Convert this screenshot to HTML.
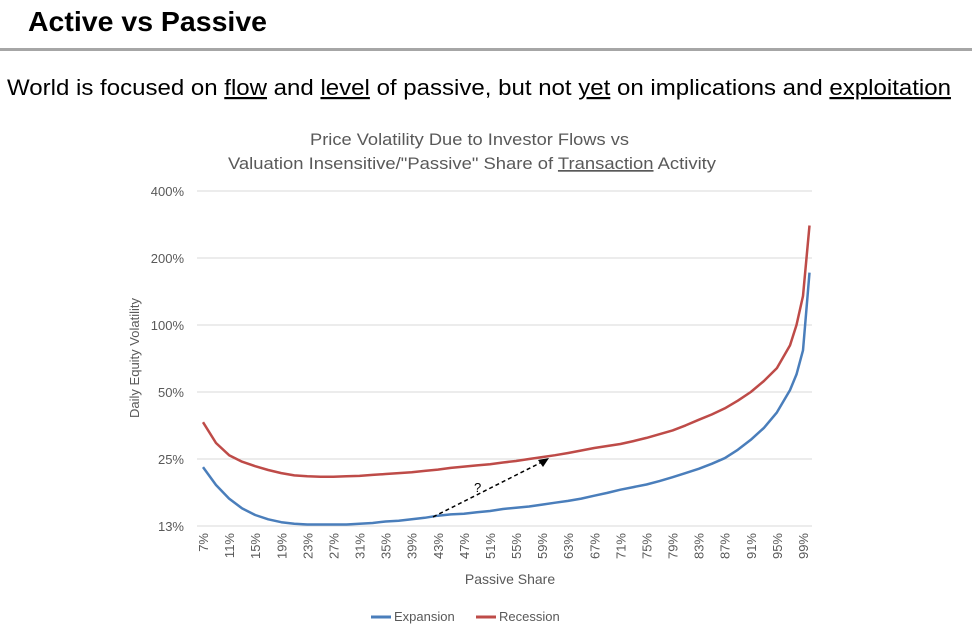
<!DOCTYPE html>
<html><head><meta charset="utf-8"><style>
body{margin:0;background:#fff;width:972px;height:635px;overflow:hidden;font-family:"Liberation Sans",sans-serif}
svg text{font-family:"Liberation Sans",sans-serif}
</style></head><body>
<svg id="c" width="972" height="635">
<text x="28" y="31" font-size="28" font-weight="bold" fill="#000" textLength="239" lengthAdjust="spacingAndGlyphs">Active vs Passive</text>
<rect x="0" y="48" width="972" height="3" fill="#a6a6a6"/>
<text x="7" y="95" font-size="22" fill="#000" textLength="944" lengthAdjust="spacingAndGlyphs">World is focused on <tspan text-decoration="underline">flow</tspan> and <tspan text-decoration="underline">level</tspan> of passive, but not <tspan text-decoration="underline">yet</tspan> on implications and <tspan text-decoration="underline">exploitation</tspan></text>
<text x="310" y="145" font-size="17" fill="#595959" textLength="319" lengthAdjust="spacingAndGlyphs">Price Volatility Due to Investor Flows vs</text>
<text x="228" y="169" font-size="17" fill="#595959" textLength="488" lengthAdjust="spacingAndGlyphs">Valuation Insensitive/"Passive" Share of <tspan text-decoration="underline">Transaction</tspan> Activity</text>
<text transform="translate(139,358) rotate(-90)" font-size="13" fill="#595959" text-anchor="middle">Daily Equity Volatility</text>
<text x="510" y="584" font-size="14" fill="#595959" text-anchor="middle">Passive Share</text>
<g id="grid"></g><g id="ylab"></g><g id="xlab"></g><g id="series"></g>
<line x1="433" y1="517" x2="542" y2="462" stroke="#000" stroke-width="1.5" stroke-dasharray="4,3"/>
<polygon points="549,458 538,460 543,467" fill="#000"/>
<text x="474" y="492" font-size="13" fill="#000">?</text>
<g>
<line x1="371" y1="617" x2="391" y2="617" stroke="#4a7ebb" stroke-width="3"/>
<text x="394" y="621" font-size="13" fill="#595959">Expansion</text>
<line x1="476" y1="617" x2="496" y2="617" stroke="#be4b48" stroke-width="3"/>
<text x="499" y="621" font-size="13" fill="#595959">Recession</text>
</g>
</svg>
<script>
const shares=[7,9,11,13,15,17,19,21,23,25,27,29,31,33,35,37,39,41,43,45,47,49,51,53,55,57,59,61,63,65,67,69,71,73,75,77,79,81,83,85,87,89,91,93,95,97,98,99,100];
const expansion=[23.0,19.1,16.6,15.0,14.0,13.4,13.0,12.8,12.7,12.7,12.7,12.7,12.8,12.9,13.1,13.2,13.4,13.6,13.9,14.1,14.2,14.4,14.6,14.9,15.1,15.3,15.6,15.9,16.2,16.6,17.1,17.6,18.2,18.7,19.2,19.9,20.7,21.6,22.6,23.8,25.2,27.5,30.5,34.5,40.5,51,60,77,172];
const recession=[36.6,29.5,26.0,24.3,23.2,22.3,21.6,21.1,20.9,20.8,20.8,20.9,21.0,21.2,21.4,21.6,21.8,22.1,22.4,22.8,23.1,23.4,23.7,24.1,24.5,25.0,25.5,26.0,26.6,27.3,28.0,28.6,29.2,30.1,31.1,32.3,33.6,35.4,37.5,39.6,42.2,45.7,50,56,64,81,100,135,280];
const yTicks=[12.5,25,50,100,200,400];
const yTickLabels=["13%","25%","50%","100%","200%","400%"];
const xTicks=[7,11,15,19,23,27,31,35,39,43,47,51,55,59,63,67,71,75,79,83,87,91,95,99];

const NS="http://www.w3.org/2000/svg";
function x(p){return 203+(p-7)*(600/92);}
function y(v){return 526-67*Math.log2(v/12.5);}
function mk(t,a,parent){const e=document.createElementNS(NS,t);for(const k in a)e.setAttribute(k,a[k]);parent.appendChild(e);return e;}
const grid=document.getElementById('grid'),ylab=document.getElementById('ylab'),xlab=document.getElementById('xlab'),ser=document.getElementById('series');
yTicks.forEach((v,i)=>{
  const l=mk('line',{x1:197,x2:812,y1:y(v),y2:y(v),stroke:'#d9d9d9','stroke-width':1},grid);
  
  
  const t=mk('text',{x:184,y:y(v)+5,'font-size':13,fill:'#595959','text-anchor':'end'},ylab);
  t.textContent=yTickLabels[i];
  
  
});
xTicks.forEach(p=>{
  const t=mk('text',{transform:`translate(${x(p)+5},533) rotate(-90)`,'font-size':13,fill:'#595959','text-anchor':'end'},xlab);
  t.textContent=p+'%';
  
  
});
function line(vals,color,name){
  const d=vals.map((v,i)=>(i?'L':'M')+x(shares[i]).toFixed(1)+','+y(v).toFixed(1)).join(' ');
  const p=mk('path',{d:d,fill:'none',stroke:color,'stroke-width':2.5,'stroke-linejoin':'round'},ser);
  
  
}
line(expansion,'#4a7ebb','expansion-line');
line(recession,'#be4b48','recession-line');
</script>
</body></html>
